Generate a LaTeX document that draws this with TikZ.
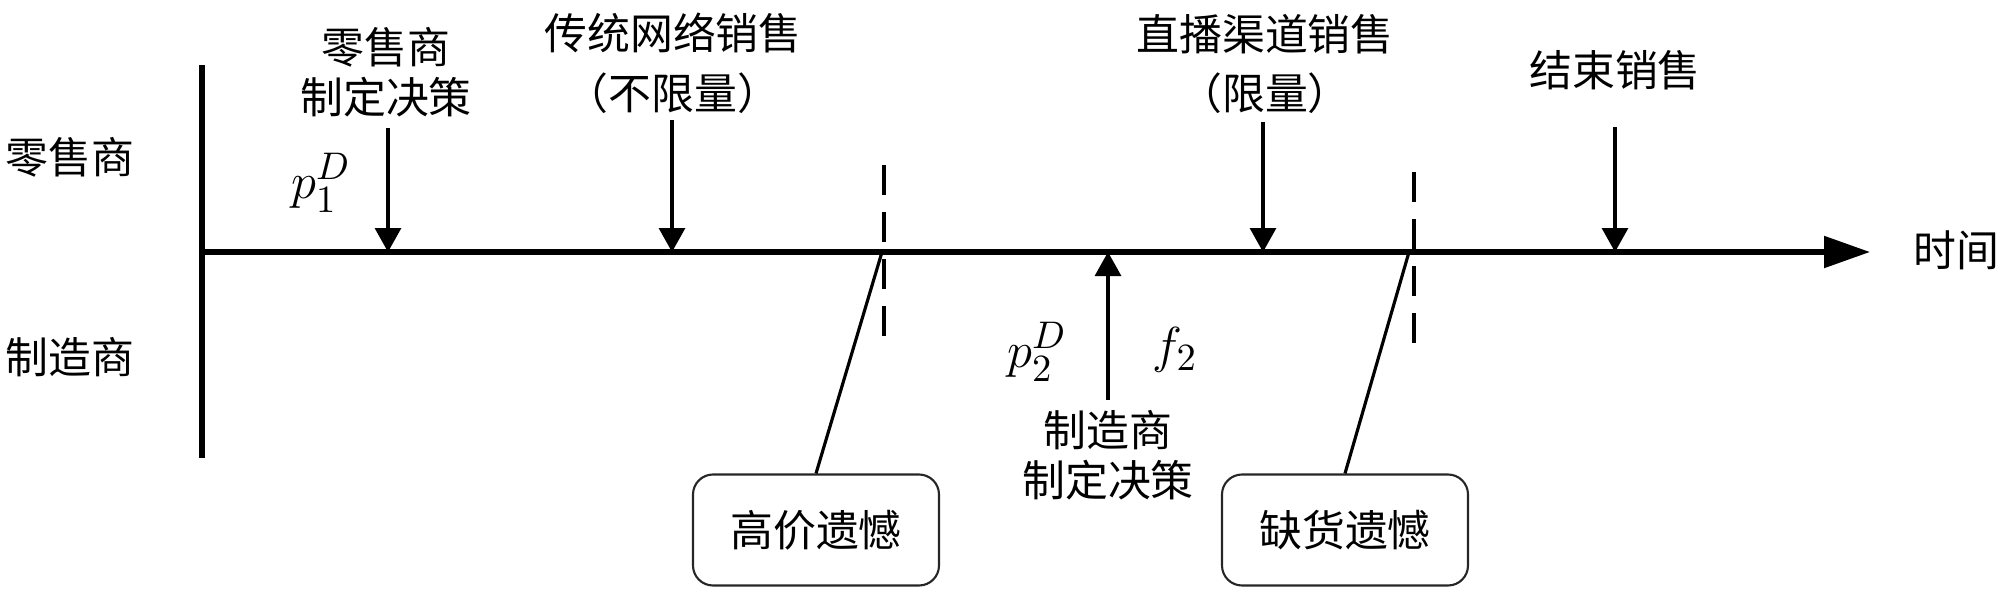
\documentclass[tikz,border=0pt]{standalone}
\usepackage[no-math]{fontspec}
\setmainfont{Noto Sans CJK SC}
\usepackage{amsmath}
\usetikzlibrary{arrows.meta, positioning}

\begin{document}
\begin{tikzpicture}[
    lab/.style={font=\fontsize{12.2}{14.2}\selectfont, align=center, inner sep=0pt},
    sym/.style={font=\fontsize{15}{17}\selectfont, inner sep=0pt},
    evt/.style={line width=0.9pt, -{Triangle[length=2.4mm, width=2.6mm]}},
    gap/.style={line width=1pt, dash pattern=on 3mm off 1.7mm},
    regret/.style={draw=black!85, line width=0.6pt, rounded corners=2mm,
        minimum width=2.46cm, minimum height=1.11cm,
        font=\fontsize{12.2}{14.2}\selectfont}
]
    \useasboundingbox (0,0) rectangle (20,5.94);

    % Axes
    \coordinate (O) at (2.02,3.42);
    \coordinate (vtop) at (2.02,5.29);
    \coordinate (vbot) at (2.02,1.36);
    \coordinate (tend) at (18.70,3.42);
    \draw[line width=1.5pt] (vtop) -- (vbot);
    \draw[line width=1.5pt, -{Triangle[length=4.6mm, width=3.1mm]}] (O) -- (tend);
    \node[lab, anchor=west] (time) at (19.13,3.44) {时间};

    % Players
    \node[lab] (ret) at (0.70,4.37) {零售商};
    \node[lab] (man) at (0.70,2.37) {制造商};

    % Retailer decides
    \node[lab] (rdec) at (3.86,5.22) {零售商\\制定决策};
    \node[sym] (p1) at (3.21,4.11) {$p_1^D$};
    \coordinate (r1) at (3.88,4.66);
    \coordinate (t1) at (3.88,3.42);
    \draw[evt] (r1) -- (t1);

    % Traditional online sales
    \node[lab] (web) at (6.73,5.31) {传统网络销售\\[2.8pt]（不限量）};
    \coordinate (r2) at (6.72,4.74);
    \coordinate (t2) at (6.72,3.42);
    \draw[evt] (r2) -- (t2);

    % High price regret
    \coordinate (d1a) at (8.84,4.29);
    \coordinate (d1b) at (8.84,2.56);
    \draw[gap] (d1a) -- (d1b);
    \node[regret] (hp) at (8.16,0.64) {高价遗憾};
    \coordinate (s1) at (8.82,3.42);
    \draw[line width=0.9pt] (s1) -- (hp.north);

    % Manufacturer decides
    \node[lab] (mdec) at (11.08,1.39) {制造商\\制定决策};
    \node[sym] (p2) at (10.37,2.42) {$p_2^D$};
    \node[sym] (f2) at (11.75,2.44) {$f_2$};
    \coordinate (m1) at (11.08,1.94);
    \coordinate (t3) at (11.08,3.42);
    \draw[evt] (m1) -- (t3);

    % Live-stream sales
    \node[lab] (live) at (12.65,5.30) {直播渠道销售\\[2.4pt]（限量）};
    \coordinate (r4) at (12.63,4.72);
    \coordinate (t4) at (12.63,3.42);
    \draw[evt] (r4) -- (t4);

    % Stock-out regret
    \coordinate (d2a) at (14.14,4.22);
    \coordinate (d2b) at (14.14,2.49);
    \draw[gap] (d2a) -- (d2b);
    \node[regret] (so) at (13.45,0.64) {缺货遗憾};
    \coordinate (s2) at (14.09,3.42);
    \draw[line width=0.9pt] (s2) -- (so.north);

    % End of sales
    \node[lab] (stop) at (16.15,5.24) {结束销售};
    \coordinate (r5) at (16.15,4.67);
    \coordinate (t5) at (16.15,3.42);
    \draw[evt] (r5) -- (t5);
\end{tikzpicture}
\end{document}
